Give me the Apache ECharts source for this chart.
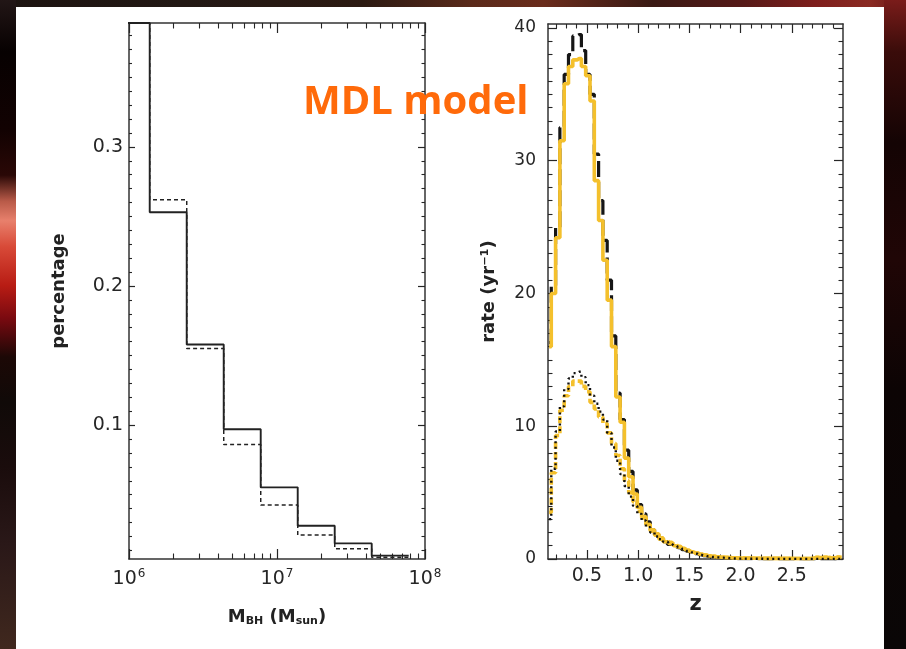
<!DOCTYPE html>
<html>
<head>
<meta charset="utf-8">
<script src="https://cdn.jsdelivr.net/npm/echarts@6/dist/echarts.min.js"></script>
<style>
  html, body { margin: 0; padding: 0; width: 906px; height: 649px; overflow: hidden; background: #140a08; }
  .band { position: absolute; }
  #bandTop { left: 0; top: 0; width: 906px; height: 8px;
    background: linear-gradient(90deg, #1c1310 0%, #221814 20%, #2c1a12 40%, #5a2a1a 52%, #6a2c1c 60%, #3a1a14 72%, #561a18 82%, #7e1e1c 90%, #8a2a22 96%, #6a1818 100%); }
  #bandLeft { left: 0; top: 0; width: 16px; height: 649px;
    background: linear-gradient(180deg, #221616 0%, #070101 8%, #120202 20%, #2a0806 27%, #b85a48 31%, #e8806c 34%, #d84a38 38%, #b81c14 44%, #7a0a10 49%, #1c0806 55%, #100a08 62%, #1a0c0c 72%, #2a1818 84%, #40281e 100%); }
  #bandRight { left: 884px; top: 0; width: 22px; height: 649px;
    background: linear-gradient(180deg, #7a1c1a 0%, #3a0c0a 8%, #140404 22%, #200606 40%, #0c0404 60%, #0a0606 100%); }
  #panel { left: 16px; top: 7px; width: 868px; height: 642px; background: #ffffff; }
  #chart { position: absolute; left: 0; top: 0; width: 906px; height: 649px; }
</style>
</head>
<body>
<div class="band" id="bandTop"></div>
<div class="band" id="bandLeft"></div>
<div class="band" id="bandRight"></div>
<div class="band" id="panel"></div>
<div id="chart"></div>
<script>
// ---- Black-hole mass distribution: bin edges in log10(M/Msun) and fractions ----
const massEdges = [5.89, 6.14, 6.39, 6.64, 6.89, 7.14, 7.39, 7.64, 7.89];
const massFracSolid  = [0.389, 0.253, 0.158, 0.097, 0.0553, 0.0277, 0.015, 0.0062];
const massFracDashed = [0.389, 0.262, 0.155, 0.086, 0.0426, 0.021, 0.0112, 0.005];
const massTickExps = [6, 7, 8];
const fracTicks = [0.1, 0.2, 0.3];
const fracTickLabels = ['0.1', '0.2', '0.3'];

// ---- Event rate versus redshift (bin centres in z, rate in yr^-1) ----
const zBins = [0.131, 0.173, 0.215, 0.257, 0.299, 0.341, 0.383, 0.425, 0.467, 0.509,
  0.551, 0.593, 0.635, 0.677, 0.719, 0.761, 0.803, 0.845, 0.887, 0.929,
  0.971, 1.013, 1.055, 1.097, 1.139, 1.181, 1.223, 1.265, 1.307, 1.349,
  1.391, 1.433, 1.475, 1.517, 1.559, 1.601, 1.643, 1.685, 1.727, 1.769,
  1.811, 1.853, 1.895, 1.937, 1.979, 2.021, 2.063, 2.105, 2.147, 2.189,
  2.231, 2.273, 2.315, 2.357, 2.399, 2.441, 2.483, 2.525, 2.567, 2.609,
  2.651, 2.693, 2.735, 2.777, 2.819, 2.861, 2.903, 2.945, 2.987];
const rateUpperBlack = [16.3, 20.6, 25.0, 32.5, 36.5, 38.0, 39.4, 39.5, 38.3, 36.5,
  35.0, 30.5, 27.0, 24.0, 21.0, 16.8, 12.5, 10.5, 8.2, 6.6,
  5.2, 4.1, 3.4, 2.8, 2.2, 1.85, 1.55, 1.3, 1.1, 0.95,
  0.85, 0.7, 0.6, 0.5, 0.4, 0.32, 0.25, 0.2, 0.15, 0.12,
  0.1, 0.08, 0.06, 0.04, 0.03, 0.03, 0.02, 0.02, 0.02, 0.02,
  0.01, 0.01, 0.01, 0.01, 0.01, 0.01, 0.01, 0.01, 0.01, 0.01,
  0.01, 0.01, 0.01, 0.01, 0.01, 0.01, 0.01, 0.01, 0.01];
const rateUpperGold = [16.0, 20.0, 24.2, 31.5, 35.8, 37.1, 37.6, 37.7, 37.1, 36.4,
  34.5, 28.5, 25.5, 22.5, 19.5, 16.0, 12.2, 10.3, 7.6, 6.2,
  4.9, 3.9, 3.2, 2.6, 2.1, 1.8, 1.5, 1.3, 1.15, 1.0,
  0.9, 0.8, 0.65, 0.55, 0.45, 0.38, 0.3, 0.25, 0.2, 0.17,
  0.14, 0.12, 0.1, 0.09, 0.08, 0.08, 0.07, 0.07, 0.06, 0.06,
  0.06, 0.05, 0.05, 0.05, 0.05, 0.05, 0.05, 0.04, 0.04, 0.04,
  0.04, 0.05, 0.12, 0.10, 0.12, 0.10, 0.08, 0.14, 0.12];
const rateLowerBlack = [3.0, 6.8, 9.6, 11.5, 12.8, 13.6, 14.0, 14.1, 13.7, 13.1,
  12.3, 11.7, 11.1, 10.5, 9.5, 8.4, 7.4, 6.4, 5.5, 4.7,
  4.0, 3.4, 2.9, 2.4, 2.0, 1.7, 1.5, 1.3, 1.15, 1.0,
  0.9, 0.75, 0.6, 0.5, 0.4, 0.3, 0.25, 0.2, 0.15, 0.12,
  0.1, 0.08, 0.06, 0.04, 0.03, 0.03, 0.02, 0.02, 0.02, 0.02,
  0.01, 0.01, 0.01, 0.01, 0.01, 0.01, 0.01, 0.01, 0.01, 0.01,
  0.01, 0.01, 0.01, 0.01, 0.01, 0.01, 0.01, 0.01, 0.01];
const rateLowerGold = [3.5, 6.5, 9.3, 11.2, 12.3, 13.0, 13.4, 13.4, 13.0, 12.6,
  11.8, 11.3, 10.7, 10.2, 9.5, 8.7, 7.8, 6.8, 5.9, 5.0,
  4.3, 3.6, 3.1, 2.6, 2.2, 1.9, 1.6, 1.4, 1.25, 1.1,
  0.95, 0.8, 0.65, 0.55, 0.45, 0.38, 0.3, 0.25, 0.2, 0.16,
  0.13, 0.11, 0.09, 0.08, 0.07, 0.07, 0.06, 0.06, 0.06, 0.05,
  0.05, 0.05, 0.05, 0.05, 0.04, 0.04, 0.04, 0.04, 0.04, 0.04,
  0.04, 0.05, 0.1, 0.1, 0.12, 0.1, 0.08, 0.12, 0.12];
const zTicks = [0.5, 1.0, 1.5, 2.0, 2.5];
const zTickLabels = ['0.5', '1.0', '1.5', '2.0', '2.5'];
const rateTicks = [0, 10, 20, 30, 40];
const rateTickLabels = ['0', '10', '20', '30', '40'];

// ---- tick position lists (minor ticks) ----
const massMinor = [];
for (let e = 6; e < 8; e++) for (let k = 2; k <= 9; k++) massMinor.push(e + Math.log10(k));
const fracMinor = [];
for (let i = 1; i <= 38; i++) if (i % 10) fracMinor.push(i / 100);
const zMinor = [];
for (let i = 2; i <= 29; i++) if (i % 5) zMinor.push(i / 10);
const rateMinor = [];
for (let i = 1; i <= 40; i++) if (i % 10) rateMinor.push(i);

const INK = '#262626';
const FRAME = { color: '#333', width: 1.5 };
const labelFont = 'DejaVu Sans';

// One axis per frame side for major ticks (and frame line), one more for minor ticks.
function sideAxes(grid, pos, min, max, majors, minors, majLen, minLen, label) {
  const base = { type: 'value', gridIndex: grid, position: pos, min: min, max: max,
    splitLine: { show: false }, scale: false };
  const major = Object.assign({}, base, {
    axisLine: { show: true, onZero: false, lineStyle: FRAME },
    axisTick: { show: true, inside: true, length: majLen, customValues: majors, lineStyle: { color: INK, width: 1.2 } },
    axisLabel: label ? label : { show: false }
  });
  const minor = Object.assign({}, base, {
    axisLine: { show: false, onZero: false },
    axisTick: { show: true, inside: true, length: minLen, customValues: minors, lineStyle: { color: INK, width: 1.1 } },
    axisLabel: { show: false }
  });
  return [major, minor];
}

const massLabel = {
  show: true, customValues: massTickExps, margin: 8, color: INK,
  formatter: function (v) { return '{b|10}{s|' + Math.round(v) + '}'; },
  rich: {
    b: { fontFamily: labelFont, fontSize: 19, lineHeight: 24, color: INK },
    s: { fontFamily: labelFont, fontSize: 12, lineHeight: 12, padding: [0, 0, 11, 1], color: INK }
  }
};
const fracLabel = {
  show: true, customValues: fracTicks, margin: 6, color: INK, fontFamily: labelFont, fontSize: 19,
  formatter: function (v) { return fracTickLabels[fracTicks.indexOf(Math.round(v * 10) / 10)]; }
};
const zLabel = {
  show: true, customValues: zTicks, margin: 8, color: INK, fontFamily: labelFont, fontSize: 19,
  formatter: function (v) { return zTickLabels[zTicks.indexOf(v)]; }
};
const rateLabel = {
  show: true, customValues: rateTicks, margin: 12, color: INK, fontFamily: labelFont, fontSize: 17,
  formatter: function (v) { return rateTickLabels[rateTicks.indexOf(v)]; }
};

const MASS_MIN = 6, MASS_MAX = 8, FRAC_MIN = 0.0038, FRAC_MAX = 0.389;
const Z_MIN = 0.12, Z_MAX = 3.0, RATE_MIN = 0, RATE_MAX = 40.3;

const xAxes = [].concat(
  sideAxes(0, 'bottom', MASS_MIN, MASS_MAX, massTickExps, massMinor, 10, 5.5, massLabel),
  sideAxes(0, 'top', MASS_MIN, MASS_MAX, massTickExps, massMinor, 10, 5.5, null),
  sideAxes(1, 'bottom', Z_MIN, Z_MAX, zTicks, zMinor, 9, 4.5, zLabel),
  sideAxes(1, 'top', Z_MIN, Z_MAX, zTicks, zMinor, 9, 4.5, null)
);
const yAxes = [].concat(
  sideAxes(0, 'left', FRAC_MIN, FRAC_MAX, fracTicks, fracMinor, 6, 3, fracLabel),
  sideAxes(0, 'right', FRAC_MIN, FRAC_MAX, fracTicks, fracMinor, 7, 3.5, null),
  sideAxes(1, 'left', RATE_MIN, RATE_MAX, rateTicks, rateMinor, 9, 4.5, rateLabel),
  sideAxes(1, 'right', RATE_MIN, RATE_MAX, rateTicks, rateMinor, 9, 4.5, null)
);

// axis titles
const titleStyle = { color: '#222', fontFamily: labelFont, fontWeight: 'bold' };
xAxes[0].name = '{m|M}{sub|BH}{m| (M}{sub|sun}{m|)}';
xAxes[0].nameLocation = 'middle';
xAxes[0].nameGap = 46;
xAxes[0].nameTextStyle = { rich: {
  m: Object.assign({ fontSize: 18, lineHeight: 24 }, titleStyle),
  sub: Object.assign({ fontSize: 11, lineHeight: 11, padding: [9, 0, 0, 0] }, titleStyle)
} };
yAxes[0].name = 'percentage';
yAxes[0].nameLocation = 'middle';
yAxes[0].nameGap = 61;
yAxes[0].nameTextStyle = Object.assign({ fontSize: 18 }, titleStyle);

xAxes[4].name = 'z';
xAxes[4].nameLocation = 'middle';
xAxes[4].nameGap = 35;
xAxes[4].nameTextStyle = Object.assign({ fontSize: 21 }, titleStyle);
yAxes[4].name = 'rate (yr⁻¹)';
yAxes[4].nameLocation = 'middle';
yAxes[4].nameGap = 50;
yAxes[4].nameTextStyle = Object.assign({ fontSize: 18 }, titleStyle);

// histogram drawn as steps over bin edges
function edgeSteps(edges, vals) {
  const out = vals.map(function (v, i) { return [edges[i], v]; });
  out.push([edges[edges.length - 1], vals[vals.length - 1]]);
  return out;
}
function centreSteps(xs, vals) { return xs.map(function (x, i) { return [x, vals[i]]; }); }

const lineBase = { type: 'line', symbol: 'none', silent: true, animation: false, clip: true };

const series = [
  Object.assign({}, lineBase, { name: 'mass solid', xAxisIndex: 0, yAxisIndex: 0, step: 'end',
    data: edgeSteps(massEdges, massFracSolid), lineStyle: { color: '#222', width: 1.9 } }),
  Object.assign({}, lineBase, { name: 'mass dashed', xAxisIndex: 0, yAxisIndex: 0, step: 'end',
    data: edgeSteps(massEdges, massFracDashed), lineStyle: { color: '#222', width: 1.5, type: [4, 3] } }),
  Object.assign({}, lineBase, { name: 'rate upper black', xAxisIndex: 4, yAxisIndex: 4, step: 'middle',
    data: centreSteps(zBins, rateUpperBlack), lineStyle: { color: '#161616', width: 3.2, type: [16, 5] } }),
  Object.assign({}, lineBase, { name: 'rate upper gold', xAxisIndex: 4, yAxisIndex: 4, step: 'middle',
    data: centreSteps(zBins, rateUpperGold), lineStyle: { color: '#f4c02c', width: 3.6 } }),
  Object.assign({}, lineBase, { name: 'rate lower gold', xAxisIndex: 4, yAxisIndex: 4, step: 'middle',
    data: centreSteps(zBins, rateLowerGold), lineStyle: { color: '#f4c02c', width: 3.6, type: [7, 3] } }),
  Object.assign({}, lineBase, { name: 'rate lower black', xAxisIndex: 4, yAxisIndex: 4, step: 'middle',
    data: centreSteps(zBins, rateLowerBlack), lineStyle: { color: '#111', width: 2.4, type: [2, 3.5] } })
];

const chart = echarts.init(document.getElementById('chart'), null, { renderer: 'canvas' });
chart.setOption({
  backgroundColor: 'transparent',
  animation: false,
  grid: [
    { left: 129, top: 23, width: 296, height: 536, containLabel: false },
    { left: 548, top: 24, width: 295, height: 535, containLabel: false }
  ],
  xAxis: xAxes,
  yAxis: yAxes,
  series: series,
  graphic: [{
    type: 'text', left: 303, top: 83, z: 100,
    style: { text: 'MDL model', font: 'bold 40px "Open Sans"', fill: '#ff6a0a' }
  }]
});
</script>
</body>
</html>
